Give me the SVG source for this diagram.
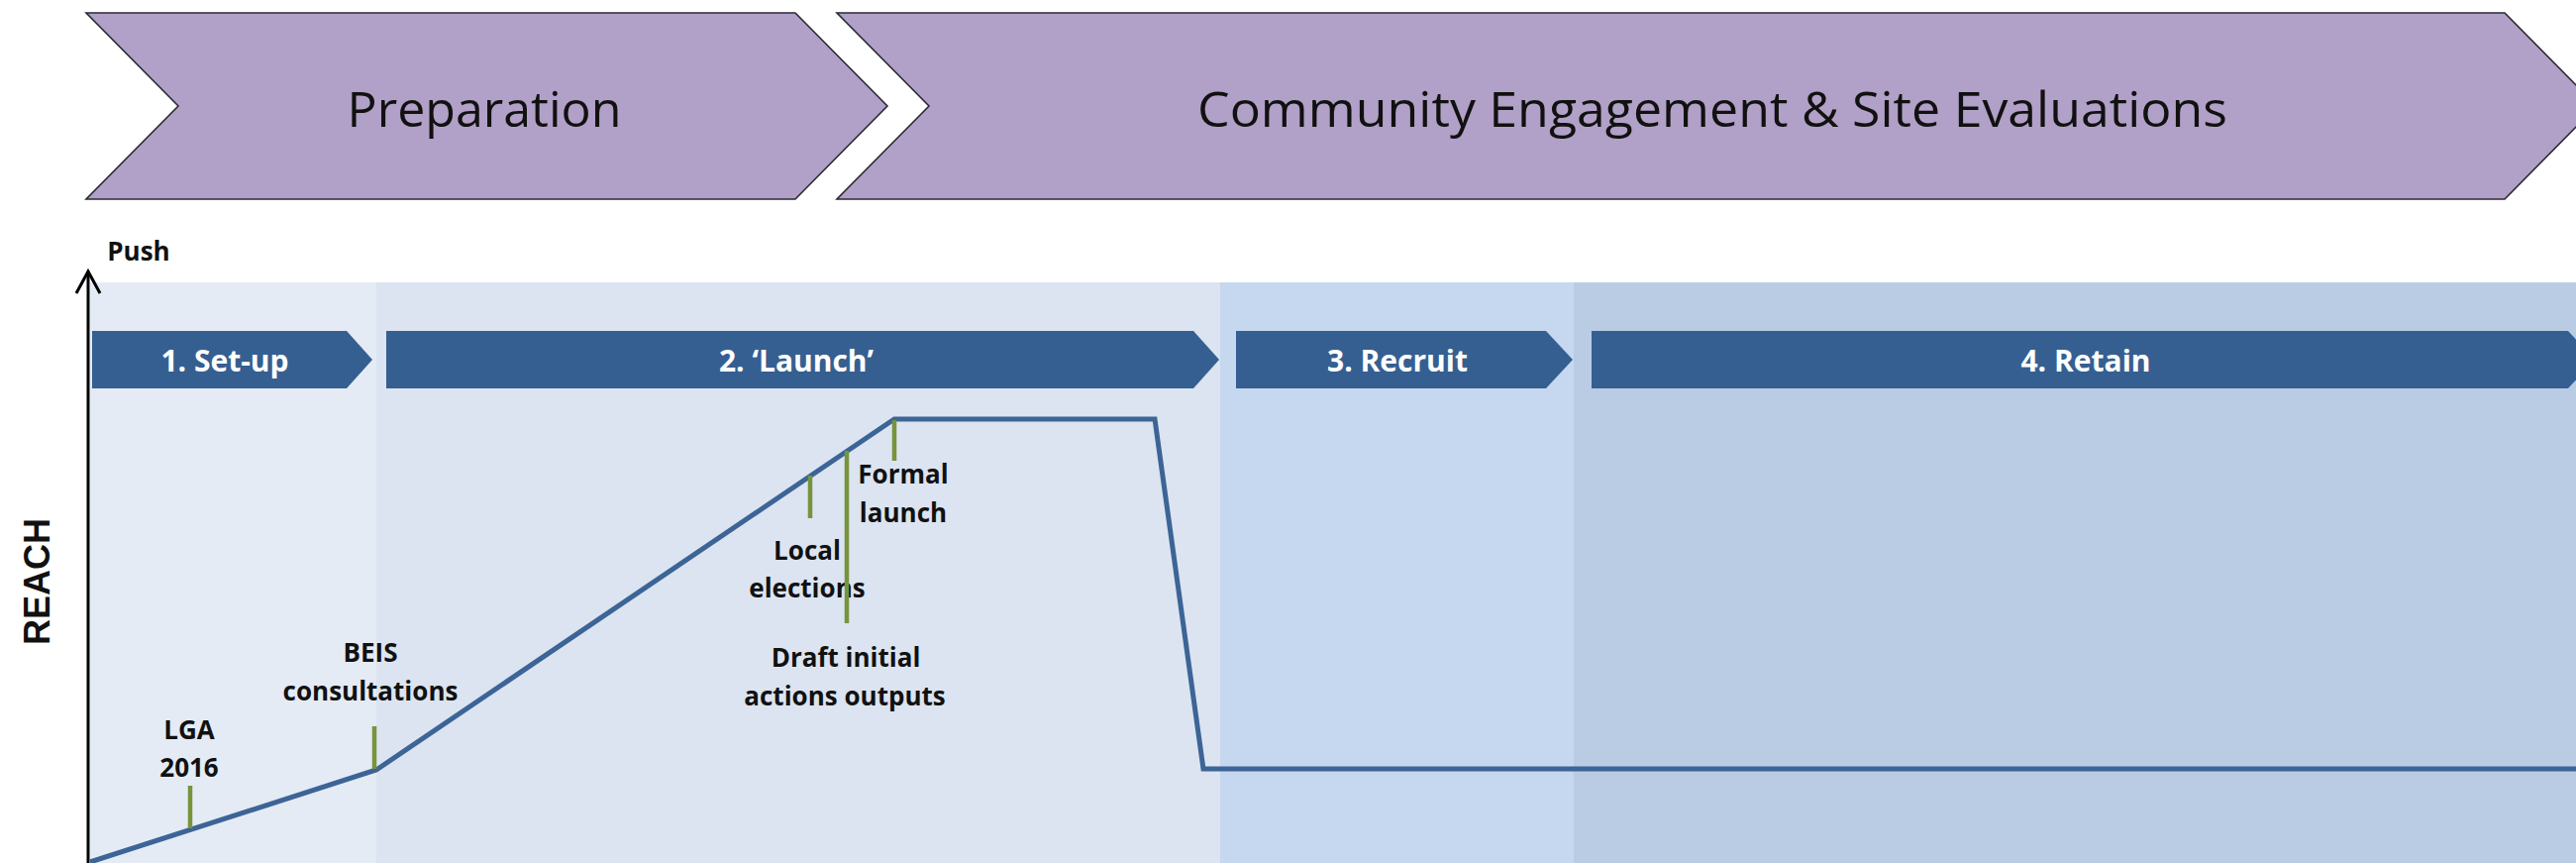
<svg xmlns="http://www.w3.org/2000/svg" width="2601" height="871" viewBox="0 0 2601 871">
<style>
.chev{fill:#B1A0C7;stroke:#2a2a33;stroke-width:1.6;stroke-linejoin:miter}
.title{font-family:"Open Sans","Liberation Sans",sans-serif;font-size:50px;fill:#111;text-anchor:middle}
.banner{fill:#365F91}
.btxt{font-family:"Open Sans","Liberation Sans",sans-serif;font-weight:bold;font-size:30px;fill:#fff;text-anchor:middle}
.lbl{font-family:"Open Sans","Liberation Sans",sans-serif;font-weight:bold;font-size:26px;fill:#111;text-anchor:middle}
.tick{stroke:#77933C;stroke-width:4.5;fill:none}
.reach{stroke:#3D6496;stroke-width:5;fill:none;stroke-linejoin:miter}
.axis{stroke:#000;stroke-width:3;fill:none}
</style>
<rect width="2601" height="871" fill="#fff"/>
<g id="phase-preparation">
<polygon class="chev" points="87,13 803,13 896,107 803,201 87,201 180,107"/>
<text class="title" x="489" y="128" textLength="277" lengthAdjust="spacingAndGlyphs">Preparation</text>
</g>
<g id="phase-community">
<polygon class="chev" points="845,13 2529,13 2622,107 2529,201 845,201 938,107"/>
<text class="title" x="1729" y="128" textLength="1040" lengthAdjust="spacingAndGlyphs">Community Engagement &amp; Site Evaluations</text>
</g>
<g id="panels">
<rect x="91" y="285" width="290" height="586" fill="#E4EBF5"/>
<rect x="380" y="285" width="852" height="586" fill="#DBE4F0"/>
<rect x="1232" y="285" width="357" height="586" fill="#C6D8EF"/>
<rect x="1589" y="285" width="1012" height="586" fill="#B9CCE4"/>
</g>
<g id="stage-setup">
<polygon class="banner" points="93,334 350,334 376,363 350,392 93,392"/>
<text class="btxt" x="227" y="375">1. Set-up</text>
</g>
<g id="stage-launch">
<polygon class="banner" points="390,334 1205,334 1231,363 1205,392 390,392"/>
<text class="btxt" x="804" y="375">2. &#8216;Launch&#8217;</text>
</g>
<g id="stage-recruit">
<polygon class="banner" points="1248,334 1561,334 1588,363 1561,392 1248,392"/>
<text class="btxt" x="1411" y="375">3. Recruit</text>
</g>
<g id="stage-retain">
<polygon class="banner" points="1607,334 2593,334 2620,363 2593,392 1607,392"/>
<text class="btxt" x="2106" y="375">4. Retain</text>
</g>
<g id="axis">
<line class="axis" x1="89" y1="274" x2="89" y2="871"/>
<polyline class="axis" points="77,296 89,274 101,296"/>
<text class="lbl" x="140" y="263">Push</text>
<text font-family="'Liberation Sans',Arial,sans-serif" font-weight="bold" font-size="36" fill="#111" text-anchor="middle" transform="translate(50,587) rotate(-90)">REACH</text>
</g>
<g id="connectors">
<polyline class="reach" points="91,870 380,777 903,423 1166,423 1215,776 2601,776"/>
</g>
<g id="event-lga">
<text class="lbl" x="191" y="746">LGA</text>
<text class="lbl" x="191" y="784">2016</text>
<line class="tick" x1="192" y1="793" x2="192" y2="836"/>
</g>
<g id="event-beis">
<text class="lbl" x="374" y="668">BEIS</text>
<text class="lbl" x="374" y="707">consultations</text>
<line class="tick" x1="378" y1="733" x2="378" y2="776"/>
</g>
<g id="event-local">
<text class="lbl" x="815" y="565">Local</text>
<text class="lbl" x="815" y="603">elections</text>
<line class="tick" x1="818" y1="480" x2="818" y2="523"/>
</g>
<g id="event-formal">
<text class="lbl" x="912" y="488">Formal</text>
<text class="lbl" x="912" y="527">launch</text>
<line class="tick" x1="903" y1="424" x2="903" y2="465"/>
</g>
<g id="event-draft">
<text class="lbl" x="854" y="673">Draft initial</text>
<text class="lbl" x="853" y="712">actions outputs</text>
<line class="tick" x1="855" y1="455" x2="855" y2="629"/>
</g>
</svg>
